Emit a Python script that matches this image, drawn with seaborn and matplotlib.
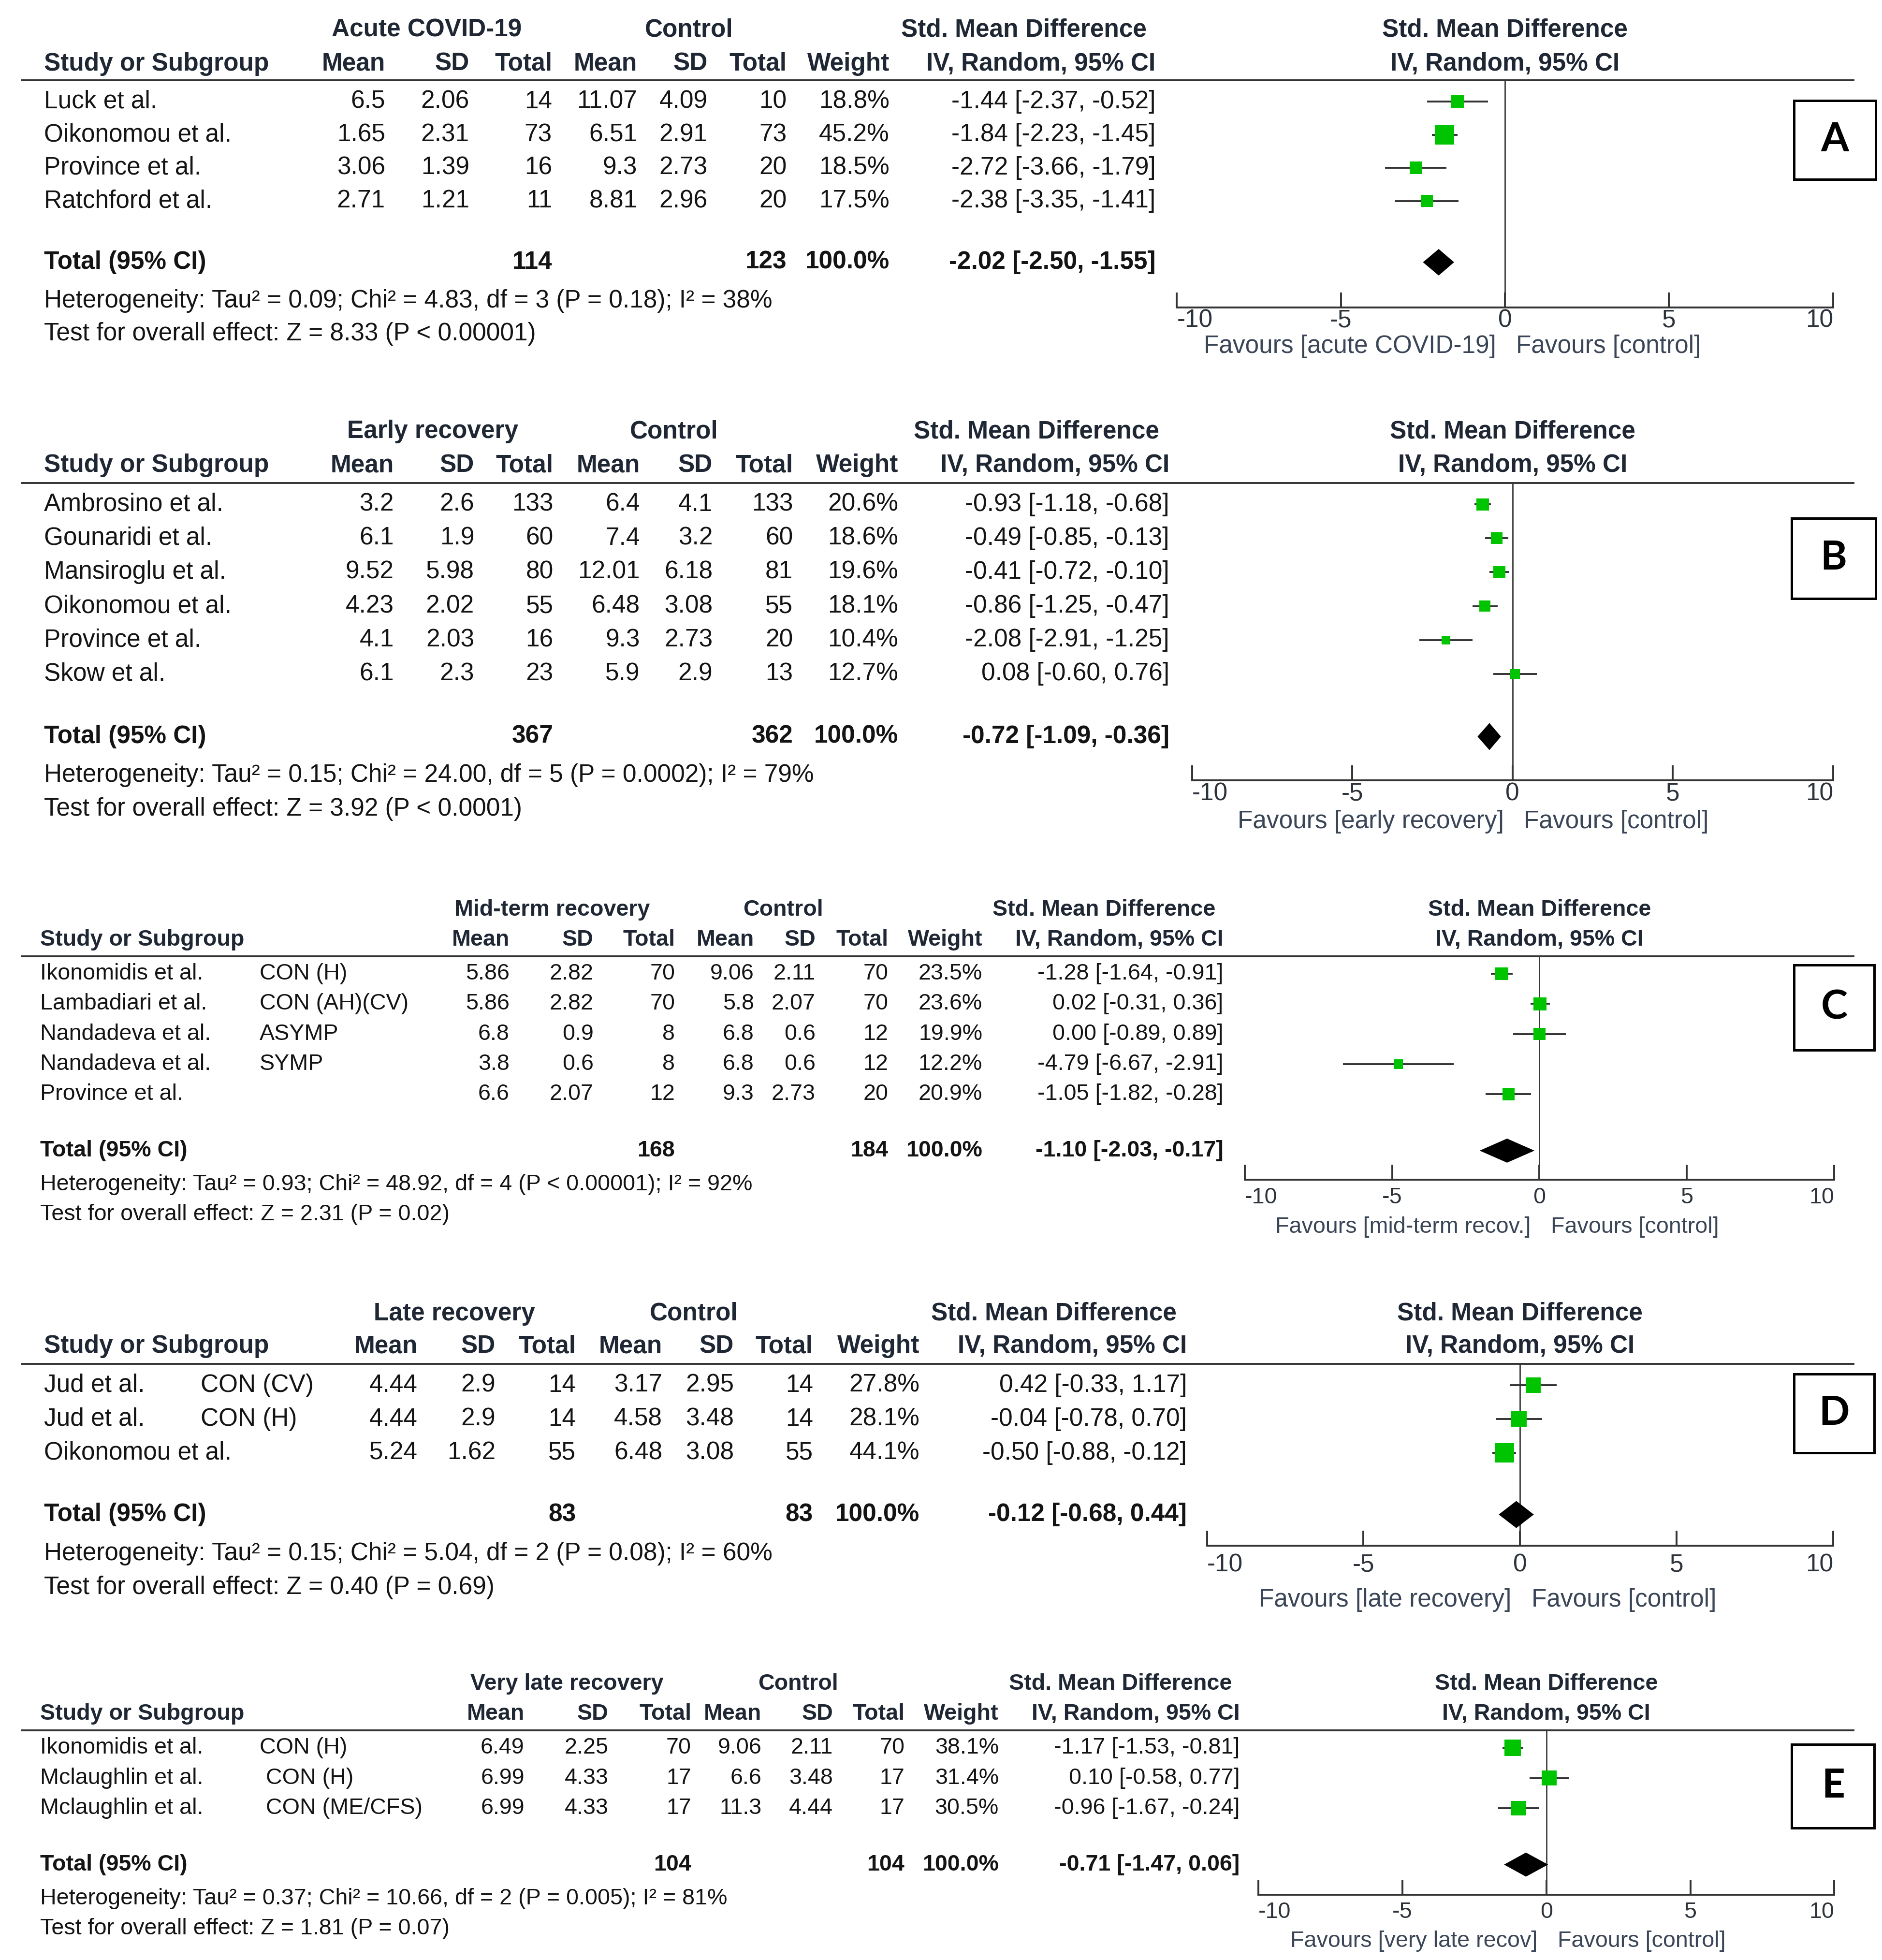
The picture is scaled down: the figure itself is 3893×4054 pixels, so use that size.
"""
Forest plots (RevMan style) for five recovery phases vs control
"""
import numpy as np
import pandas as pd
import matplotlib
matplotlib.use("Agg")
import matplotlib.pyplot as plt
from matplotlib.patches import Rectangle
import seaborn as sns

sns.set_theme(style="white")
plt.rcParams["font.family"] = ["Liberation Sans", "DejaVu Sans"]
plt.rcParams["axes.unicode_minus"] = False

# ---------------- data ----------------
# A: acute COVID-19
a_study = ["Luck et al.", "Oikonomou et al.", "Province et al.", "Ratchford et al."]
a_sub = ["", "", "", ""]
a_mean1 = [6.5, 1.65, 3.06, 2.71]
a_sd1 = [2.06, 2.31, 1.39, 1.21]
a_n1 = [14, 73, 16, 11]
a_mean2 = [11.07, 6.51, 9.3, 8.81]
a_sd2 = [4.09, 2.91, 2.73, 2.96]
a_n2 = [10, 73, 20, 20]
a_weight = [18.8, 45.2, 18.5, 17.5]
a_smd = [-1.44, -1.84, -2.72, -2.38]
a_lo = [-2.37, -2.23, -3.66, -3.35]
a_hi = [-0.52, -1.45, -1.79, -1.41]
a_total = [114, 123, -2.02, -2.50, -1.55]
a_het = "Heterogeneity: Tau² = 0.09; Chi² = 4.83, df = 3 (P = 0.18); I² = 38%"
a_test = "Test for overall effect: Z = 8.33 (P < 0.00001)"
a_group = "Acute COVID-19"
a_fav = "Favours [acute COVID-19]"

# B: early recovery
b_study = ["Ambrosino et al.", "Gounaridi et al.", "Mansiroglu et al.",
           "Oikonomou et al.", "Province et al.", "Skow et al."]
b_sub = ["", "", "", "", "", ""]
b_mean1 = [3.2, 6.1, 9.52, 4.23, 4.1, 6.1]
b_sd1 = [2.6, 1.9, 5.98, 2.02, 2.03, 2.3]
b_n1 = [133, 60, 80, 55, 16, 23]
b_mean2 = [6.4, 7.4, 12.01, 6.48, 9.3, 5.9]
b_sd2 = [4.1, 3.2, 6.18, 3.08, 2.73, 2.9]
b_n2 = [133, 60, 81, 55, 20, 13]
b_weight = [20.6, 18.6, 19.6, 18.1, 10.4, 12.7]
b_smd = [-0.93, -0.49, -0.41, -0.86, -2.08, 0.08]
b_lo = [-1.18, -0.85, -0.72, -1.25, -2.91, -0.60]
b_hi = [-0.68, -0.13, -0.10, -0.47, -1.25, 0.76]
b_total = [367, 362, -0.72, -1.09, -0.36]
b_het = "Heterogeneity: Tau² = 0.15; Chi² = 24.00, df = 5 (P = 0.0002); I² = 79%"
b_test = "Test for overall effect: Z = 3.92 (P < 0.0001)"
b_group = "Early recovery"
b_fav = "Favours [early recovery]"

# C: mid-term recovery
c_study = ["Ikonomidis et al.", "Lambadiari et al.", "Nandadeva et al.",
           "Nandadeva et al.", "Province et al."]
c_sub = ["CON (H)", "CON (AH)(CV)", "ASYMP", "SYMP", ""]
c_mean1 = [5.86, 5.86, 6.8, 3.8, 6.6]
c_sd1 = [2.82, 2.82, 0.9, 0.6, 2.07]
c_n1 = [70, 70, 8, 8, 12]
c_mean2 = [9.06, 5.8, 6.8, 6.8, 9.3]
c_sd2 = [2.11, 2.07, 0.6, 0.6, 2.73]
c_n2 = [70, 70, 12, 12, 20]
c_weight = [23.5, 23.6, 19.9, 12.2, 20.9]
c_smd = [-1.28, 0.02, 0.00, -4.79, -1.05]
c_lo = [-1.64, -0.31, -0.89, -6.67, -1.82]
c_hi = [-0.91, 0.36, 0.89, -2.91, -0.28]
c_total = [168, 184, -1.10, -2.03, -0.17]
c_het = "Heterogeneity: Tau² = 0.93; Chi² = 48.92, df = 4 (P < 0.00001); I² = 92%"
c_test = "Test for overall effect: Z = 2.31 (P = 0.02)"
c_group = "Mid-term recovery"
c_fav = "Favours [mid-term recov.]"

# D: late recovery
d_study = ["Jud et al.", "Jud et al.", "Oikonomou et al."]
d_sub = ["CON (CV)", "CON (H)", ""]
d_mean1 = [4.44, 4.44, 5.24]
d_sd1 = [2.9, 2.9, 1.62]
d_n1 = [14, 14, 55]
d_mean2 = [3.17, 4.58, 6.48]
d_sd2 = [2.95, 3.48, 3.08]
d_n2 = [14, 14, 55]
d_weight = [27.8, 28.1, 44.1]
d_smd = [0.42, -0.04, -0.50]
d_lo = [-0.33, -0.78, -0.88]
d_hi = [1.17, 0.70, -0.12]
d_total = [83, 83, -0.12, -0.68, 0.44]
d_het = "Heterogeneity: Tau² = 0.15; Chi² = 5.04, df = 2 (P = 0.08); I² = 60%"
d_test = "Test for overall effect: Z = 0.40 (P = 0.69)"
d_group = "Late recovery"
d_fav = "Favours [late recovery]"

# E: very late recovery
e_study = ["Ikonomidis et al.", "Mclaughlin et al.", "Mclaughlin et al."]
e_sub = ["CON (H)", " CON (H)", " CON (ME/CFS)"]
e_mean1 = [6.49, 6.99, 6.99]
e_sd1 = [2.25, 4.33, 4.33]
e_n1 = [70, 17, 17]
e_mean2 = [9.06, 6.6, 11.3]
e_sd2 = [2.11, 3.48, 4.44]
e_n2 = [70, 17, 17]
e_weight = [38.1, 31.4, 30.5]
e_smd = [-1.17, 0.10, -0.96]
e_lo = [-1.53, -0.58, -1.67]
e_hi = [-0.81, 0.77, -0.24]
e_total = [104, 104, -0.71, -1.47, 0.06]
e_het = "Heterogeneity: Tau² = 0.37; Chi² = 10.66, df = 2 (P = 0.005); I² = 81%"
e_test = "Test for overall effect: Z = 1.81 (P = 0.07)"
e_group = "Very late recovery"
e_fav = "Favours [very late recov]"

ticks = [-10, -5, 0, 5, 10]

# ---------------- layout (in a 1500-wide canvas) ----------------
W = 1500.0
H = W * 4054 / 3893

layout = {
    "A": dict(h1=24, h2=51, line=64, row0=81, step=26.4, total=209, het=240, test=266,
              axis=245, fav=276, xl=938, xr=1461, study=35, sub=0,
              cols=[307, 374, 440, 508, 564, 627, 709, 921], grp=[340, 549, 816],
              box=(1430, 80, 65, 63), fs=37, pad=2, k=18.7),
    "B": dict(h1=344, h2=371, line=385, row0=402, step=27, total=587, het=618, test=645,
              axis=622, fav=655, xl=950, xr=1461, study=35, sub=0,
              cols=[314, 378, 441, 510, 568, 632, 716, 932], grp=[345, 537, 826],
              box=(1428, 413, 67, 64), fs=37, pad=2, k=16),
    "C": dict(h1=725, h2=749, line=762, row0=776, step=24, total=917, het=944, test=968,
              axis=940, fav=978, xl=992, xr=1462, study=32, sub=207,
              cols=[406, 473, 538, 601, 650, 708, 783, 975], grp=[440, 624, 880],
              box=(1430, 769, 64, 68), fs=33.6, pad=11, k=16),
    "D": dict(h1=1047, h2=1073, line=1087, row0=1104, step=27, total=1207, het=1238, test=1265,
              axis=1232, fav=1275, xl=962, xr=1461, study=35, sub=160,
              cols=[333, 395, 459, 528, 585, 648, 733, 946], grp=[362, 553, 840],
              box=(1430, 1095, 64, 63), fs=37, pad=11, k=18.7),
    "E": dict(h1=1342, h2=1366, line=1379, row0=1393, step=24, total=1486, het=1513, test=1537,
              axis=1510, fav=1547, xl=1003, xr=1462, study=32, sub=207,
              cols=[418, 485, 551, 607, 664, 721, 796, 988], grp=[452, 636, 893],
              box=(1428, 1390, 66, 67), fs=33.6, pad=10, k=16),
}

panels = {
    "A": (a_study, a_sub, a_mean1, a_sd1, a_n1, a_mean2, a_sd2, a_n2, a_weight, a_smd, a_lo, a_hi,
          a_total, a_het, a_test, a_group, a_fav),
    "B": (b_study, b_sub, b_mean1, b_sd1, b_n1, b_mean2, b_sd2, b_n2, b_weight, b_smd, b_lo, b_hi,
          b_total, b_het, b_test, b_group, b_fav),
    "C": (c_study, c_sub, c_mean1, c_sd1, c_n1, c_mean2, c_sd2, c_n2, c_weight, c_smd, c_lo, c_hi,
          c_total, c_het, c_test, c_group, c_fav),
    "D": (d_study, d_sub, d_mean1, d_sd1, d_n1, d_mean2, d_sd2, d_n2, d_weight, d_smd, d_lo, d_hi,
          d_total, d_het, d_test, d_group, d_fav),
    "E": (e_study, e_sub, e_mean1, e_sd1, e_n1, e_mean2, e_sd2, e_n2, e_weight, e_smd, e_lo, e_hi,
          e_total, e_het, e_test, e_group, e_fav),
}

TXT = "#141414"
HDR = "#1e2733"
FAV = "#3a4657"
LINE = "#333333"
GREEN = "#00c400"

fig = plt.figure(figsize=(38.93, 40.54), dpi=100)
bg = fig.add_axes([0, 0, 1, 1])
bg.set_xlim(0, W)
bg.set_ylim(H, 0)
bg.axis("off")

for key, (study, sub, m1, s1, n1, m2, s2, n2, wt, smd, lo, hi,
          total, het, test, group, fav) in panels.items():
    g = layout[key]
    fs = g["fs"]
    df = pd.DataFrame(dict(study=study, sub=sub, m1=m1, s1=s1, n1=n1, m2=m2, s2=s2, n2=n2,
                           weight=wt, smd=smd, lo=lo, hi=hi))
    df["row"] = np.arange(len(df))
    c = g["cols"]

    # header
    bold = dict(fontsize=fs, fontweight="bold", color=HDR, va="center")
    bg.text(g["grp"][0], g["h1"], group, ha="center", **bold)
    bg.text(g["grp"][1], g["h1"], "Control", ha="center", **bold)
    bg.text(g["grp"][2], g["h1"], "Std. Mean Difference", ha="center", **bold)
    bg.text(g["study"], g["h2"], "Study or Subgroup", ha="left", **bold)
    for x, lab in zip(c, ["Mean", "SD", "Total", "Mean", "SD", "Total", "Weight",
                          "IV, Random, 95% CI"]):
        bg.text(x, g["h2"], lab, ha="right", **bold)
    x0 = (g["xl"] + g["xr"]) / 2
    bg.text(x0, g["h1"], "Std. Mean Difference", ha="center", **bold)
    bg.text(x0, g["h2"], "IV, Random, 95% CI", ha="center", **bold)
    bg.plot([17, 1478], [g["line"], g["line"]], color=LINE, lw=2.8, solid_capstyle="butt")

    # study rows
    reg = dict(fontsize=fs, color=TXT, va="center")
    for _, r in df.iterrows():
        y = g["row0"] + r["row"] * g["step"]
        bg.text(g["study"], y, r["study"], ha="left", **reg)
        if r["sub"]:
            bg.text(g["sub"], y, r["sub"], ha="left", **reg)
        vals = [f"{r.m1:g}", f"{r.s1:g}", f"{int(r.n1)}", f"{r.m2:g}", f"{r.s2:g}",
                f"{int(r.n2)}", f"{r.weight:.1f}%", f"{r.smd:.2f} [{r.lo:.2f}, {r.hi:.2f}]"]
        for x, v in zip(c, vals):
            bg.text(x, y, v, ha="right", **reg)

    # total row
    tb = dict(fontsize=fs, fontweight="bold", color=TXT, va="center")
    bg.text(g["study"], g["total"], "Total (95% CI)", ha="left", **tb)
    bg.text(c[2], g["total"], f"{total[0]}", ha="right", **tb)
    bg.text(c[5], g["total"], f"{total[1]}", ha="right", **tb)
    bg.text(c[6], g["total"], "100.0%", ha="right", **tb)
    bg.text(c[7], g["total"], f"{total[2]:.2f} [{total[3]:.2f}, {total[4]:.2f}]",
            ha="right", **tb)
    bg.text(g["study"], g["het"], het, ha="left", **reg)
    bg.text(g["study"], g["test"], test, ha="left", **reg)

    # forest axes
    ax = fig.add_axes([g["xl"] / W, 1 - g["axis"] / H,
                       (g["xr"] - g["xl"]) / W, (g["axis"] - g["line"]) / H])
    ax.set_facecolor("none")
    ax.axvline(0, color="#3a3a3a", lw=2.0, zorder=1)
    ax.hlines(df["row"], df["lo"], df["hi"], color=LINE, lw=2.8, zorder=2)
    sns.scatterplot(data=df, x="smd", y="row", size="weight", sizes=(0, g["k"] * 100),
                    size_norm=(0, 100), marker="s", color=GREEN, linewidth=0,
                    legend=False, ax=ax, zorder=3)
    ty = len(df) - 1 + (g["total"] - g["row0"] - (len(df) - 1) * g["step"]) / g["step"]
    dh = 0.4
    ax.fill([total[3], total[2], total[4], total[2]], [ty, ty - dh, ty, ty + dh],
            color="black", lw=0, zorder=3)
    ax.set_xlim(-10, 10)
    ax.set_ylim((g["axis"] - g["row0"]) / g["step"], (g["line"] - g["row0"]) / g["step"])
    ax.set_xticks(ticks)
    ax.set_xticklabels([str(t) for t in ticks])
    ax.set_yticks([])
    ax.set_xlabel("")
    ax.set_ylabel("")
    for s in ["left", "right", "top"]:
        ax.spines[s].set_visible(False)
    ax.spines["bottom"].set_color(LINE)
    ax.spines["bottom"].set_linewidth(2.8)
    ax.tick_params(axis="x", direction="in", length=22, width=2.8, color=LINE,
                   labelsize=fs, labelcolor="#2d333b", pad=g["pad"], bottom=True)
    labs = ax.get_xticklabels()
    labs[0].set_ha("left")
    labs[-1].set_ha("right")

    bg.text(x0 - 7, g["fav"], fav, ha="right", fontsize=fs, color=FAV, va="center")
    bg.text(x0 + 9, g["fav"], "Favours [control]", ha="left", fontsize=fs, color=FAV,
            va="center")

    # panel letter box
    bx, by, bw, bh = g["box"]
    bg.add_patch(Rectangle((bx, by), bw, bh, fill=False, edgecolor="black", lw=3.6))
    bg.text(bx + bw / 2, by + bh / 2, key, ha="center", va="center", fontsize=60,
            fontweight="bold", family=["Lato", "DejaVu Sans"], color="black")

fig.savefig("out.png", dpi=100, facecolor="white")
